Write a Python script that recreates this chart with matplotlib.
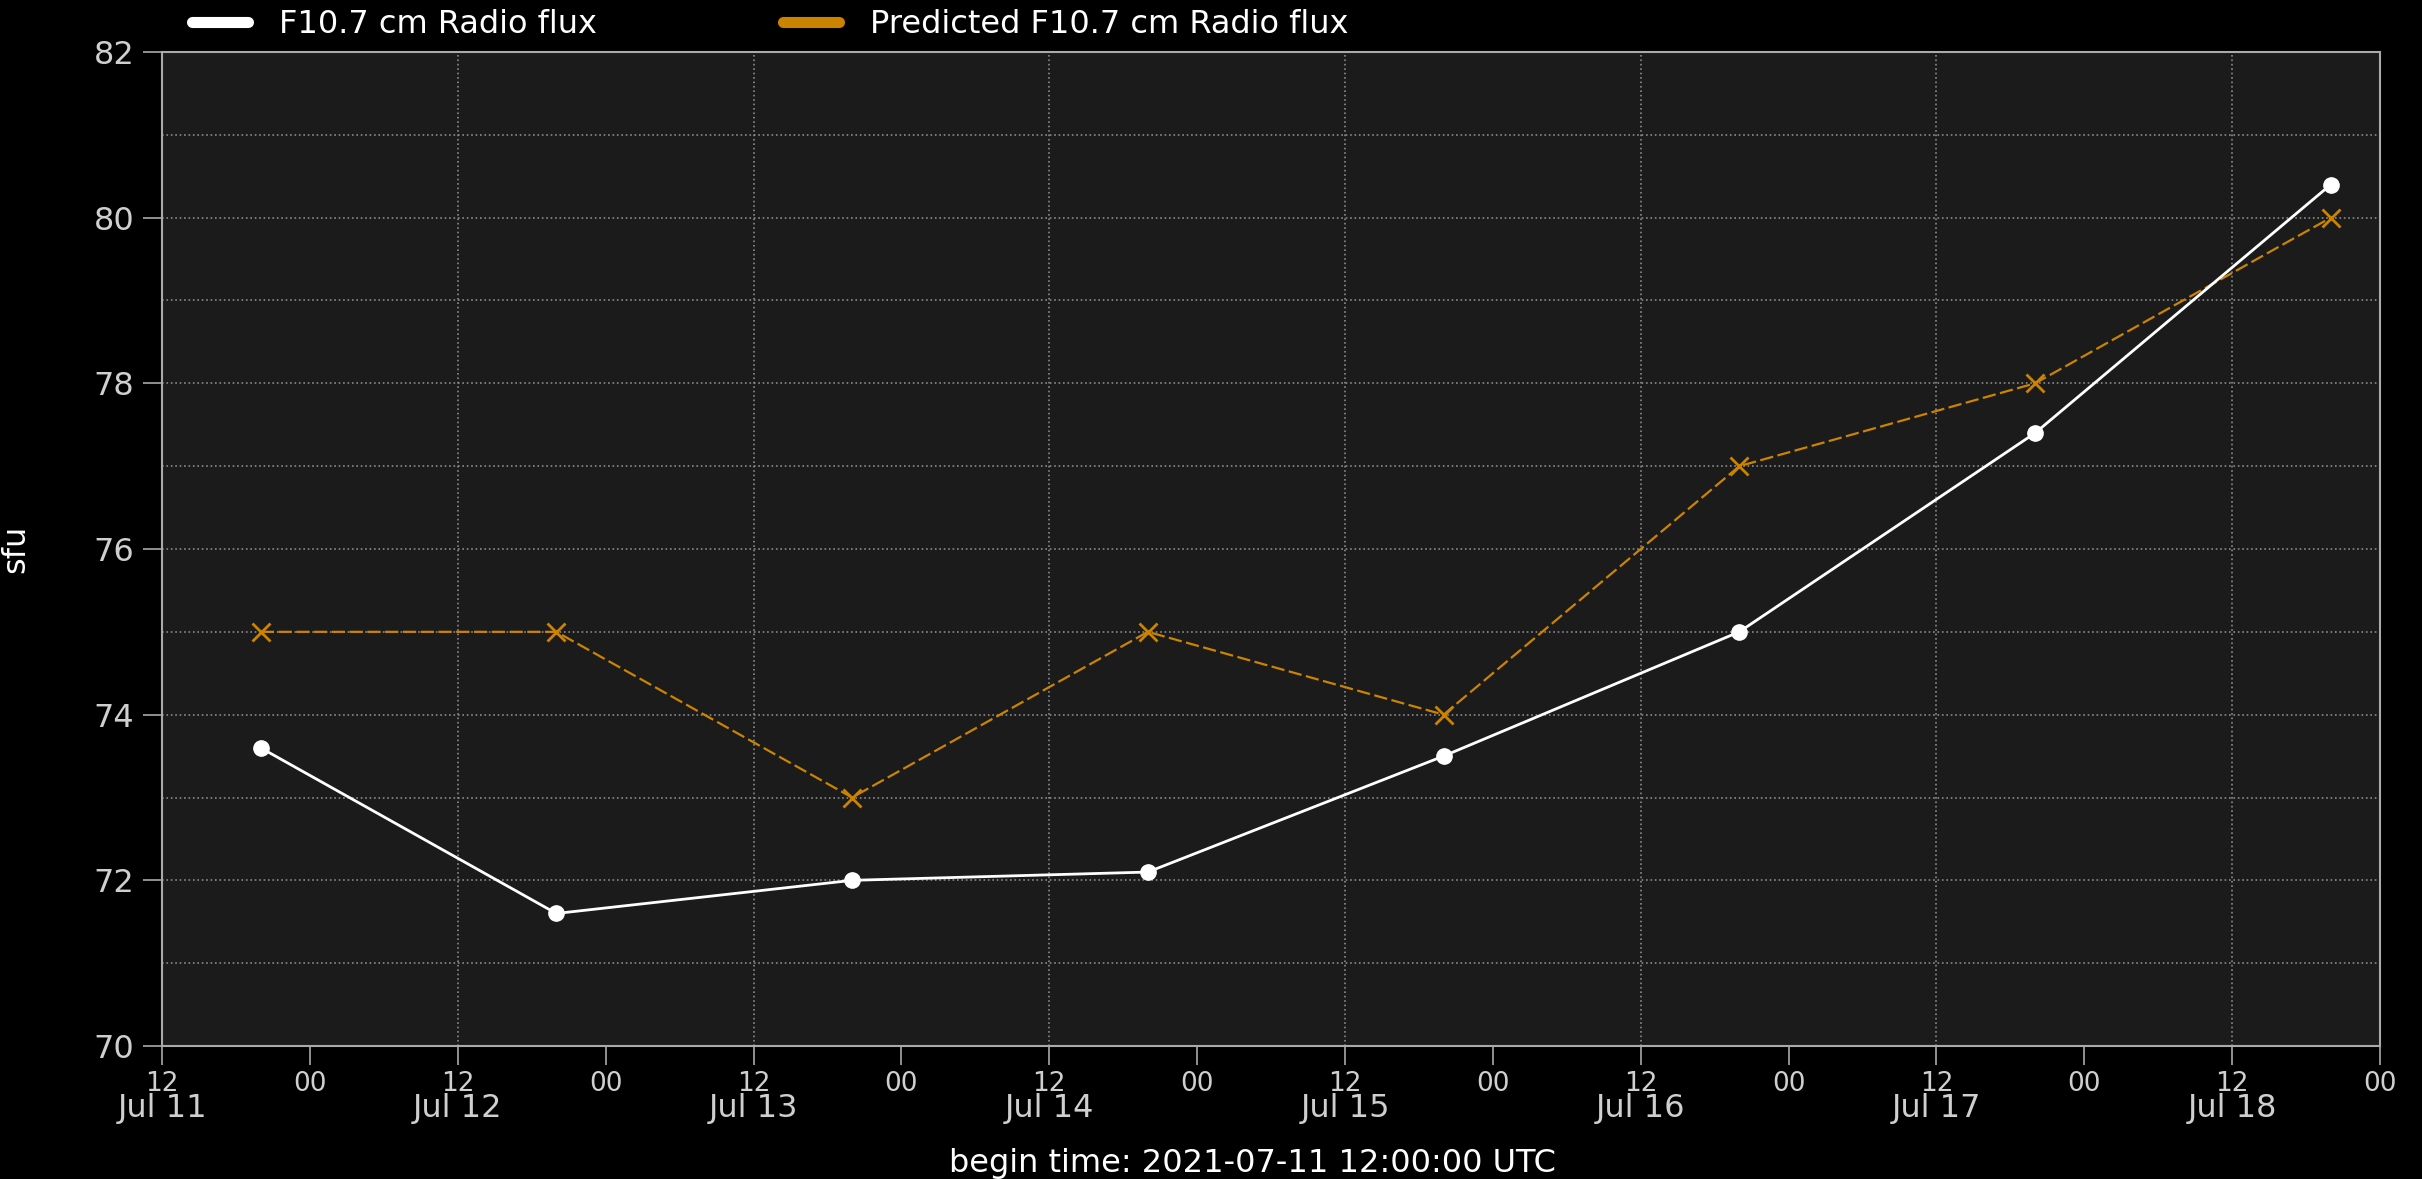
import matplotlib
matplotlib.use("Agg")
import matplotlib.pyplot as plt
import matplotlib.dates as mdates
from matplotlib.ticker import MultipleLocator, NullFormatter
import datetime as dt

# ---- data ----
times = ["2021-07-11 20:00", "2021-07-12 20:00", "2021-07-13 20:00", "2021-07-14 20:00",
         "2021-07-15 20:00", "2021-07-16 20:00", "2021-07-17 20:00", "2021-07-18 20:00"]
flux = [73.6, 71.6, 72.0, 72.1, 73.5, 75.0, 77.4, 80.4]
predicted = [75, 75, 73, 75, 74, 77, 78, 80]
series_labels = ["F10.7 cm Radio flux", "Predicted F10.7 cm Radio flux"]
xlabel_text = "begin time: 2021-07-11 12:00:00 UTC"
ylabel_text = "sfu"
x_start = "2021-07-11 12:00"
x_end = "2021-07-19 00:00"
y_range = [70, 82]

t = [dt.datetime.strptime(s, "%Y-%m-%d %H:%M") for s in times]
x0 = dt.datetime.strptime(x_start, "%Y-%m-%d %H:%M")
x1 = dt.datetime.strptime(x_end, "%Y-%m-%d %H:%M")

orange = "#cc8400"
fs = 23
fs_small = 19

fig = plt.figure(figsize=(24.22, 11.79), dpi=100, facecolor="black")
ax = fig.add_axes([0.0669, 0.1128, 0.9827 - 0.0669, 0.9559 - 0.1128])
ax.set_facecolor("#1b1b1b")

ax.plot(t, flux, color="white", lw=2, marker="o", ms=11, zorder=4,
        label=series_labels[0])
ax.plot(t, predicted, color=orange, lw=1.6, ls=(0, (6, 2)), marker="x", ms=13,
        mew=2, zorder=3, label=series_labels[1])

ax.set_xlim(x0, x1)
ax.set_ylim(*y_range)

ax.xaxis.set_major_locator(mdates.HourLocator(byhour=12))
ax.xaxis.set_major_formatter(mdates.DateFormatter("%H"))
ax.xaxis.set_minor_locator(mdates.HourLocator(byhour=0))
ax.xaxis.set_minor_formatter(mdates.DateFormatter("%H"))

ax.yaxis.set_major_locator(MultipleLocator(2))
ax.yaxis.set_minor_locator(MultipleLocator(1))
ax.yaxis.set_minor_formatter(NullFormatter())

tick_col = "#cfcfcf"
ax.tick_params(axis="both", which="both", colors="#aaaaaa", labelcolor=tick_col,
               labelsize=fs, length=14, width=1.2, pad=6)
ax.tick_params(axis="x", which="both", labelsize=fs_small, pad=4)
ax.tick_params(axis="y", which="minor", length=0)

# date labels under the hour labels
sec = ax.secondary_xaxis("bottom")
sec.xaxis.set_major_locator(mdates.HourLocator(byhour=12))
sec.xaxis.set_major_formatter(mdates.DateFormatter("%b %d"))
sec.xaxis.set_minor_locator(mdates.HourLocator(byhour=0))
sec.xaxis.set_minor_formatter(NullFormatter())
sec.tick_params(axis="x", which="both", length=0, pad=34, labelsize=fs, labelcolor=tick_col)
sec.spines["bottom"].set_visible(False)

ax.grid(True, which="major", axis="x", color="#8a8a8a", ls=":", lw=1.2)
ax.grid(True, which="both", axis="y", color="#8a8a8a", ls=":", lw=1.2)
ax.set_axisbelow(True)

for sp in ax.spines.values():
    sp.set_color("#aaaaaa")
    sp.set_linewidth(1.5)

ax.set_ylabel(ylabel_text, color="white", fontsize=fs)
ax.yaxis.set_label_coords(-0.059, 0.5)
ax.set_xlabel(xlabel_text, color="white", fontsize=fs)
ax.xaxis.set_label_coords(0.4916, -0.103)

h1 = plt.Line2D([], [], color="white", lw=8, solid_capstyle="round")
h2 = plt.Line2D([], [], color=orange, lw=8, solid_capstyle="round")
leg = ax.legend([h1, h2], series_labels, loc="lower left", bbox_to_anchor=(0.0079, 0.999),
                ncol=2, frameon=False, fontsize=fs, handlelength=1.75, handletextpad=0.95,
                columnspacing=5.85, borderaxespad=0)
for txt in leg.get_texts():
    txt.set_color("white")

fig.savefig("out.png", dpi=100, facecolor="black")
